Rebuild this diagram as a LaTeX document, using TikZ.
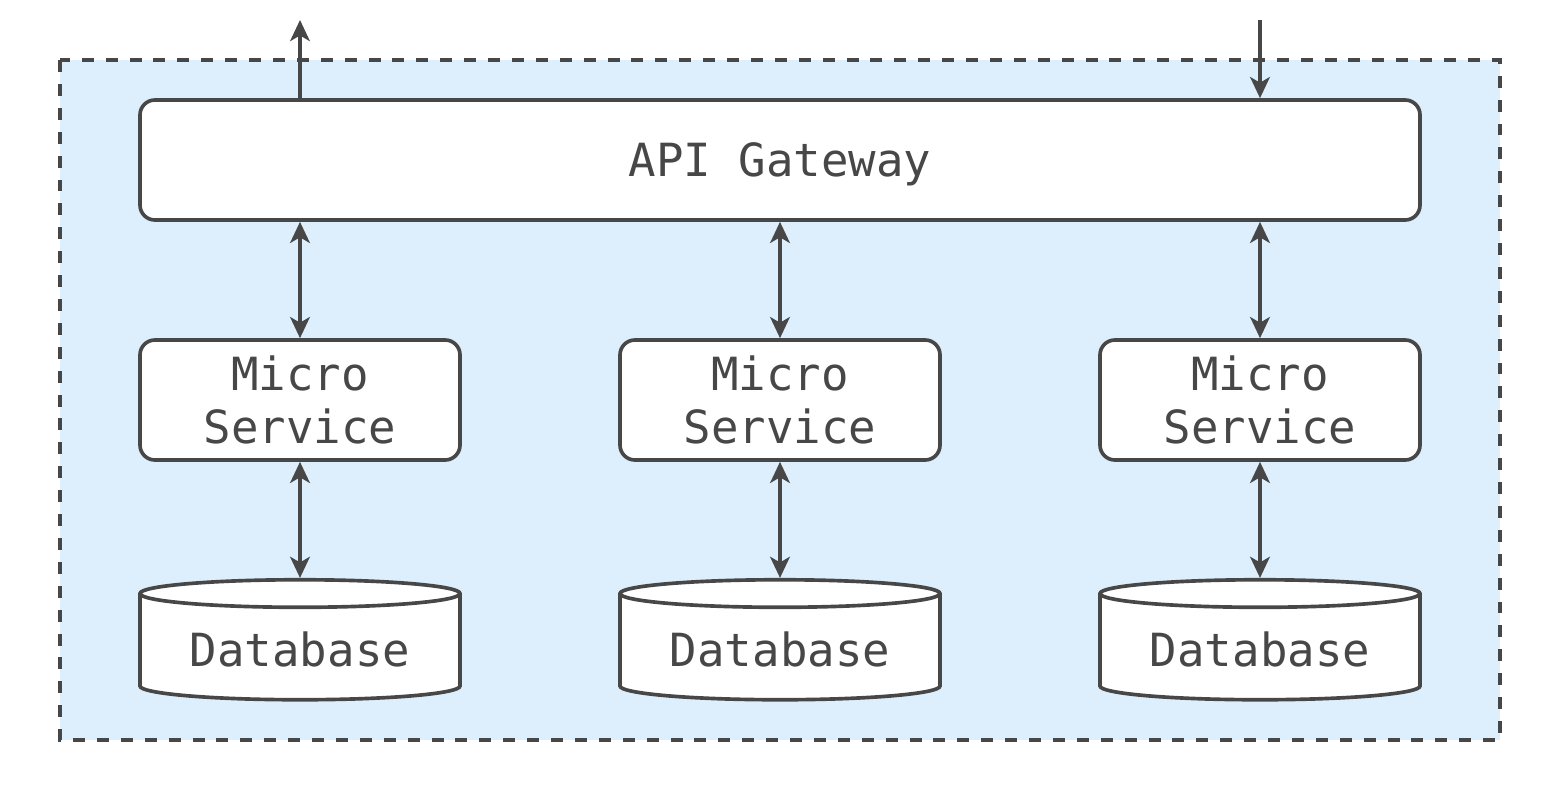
\documentclass[tikz,border=0pt]{standalone}
\usepackage{fontspec}
\setmonofont{DejaVu Sans Mono}
\usetikzlibrary{shapes.geometric,arrows.meta}
\definecolor{ink}{HTML}{474747}
\definecolor{zone}{HTML}{DDEFFD}
\tikzset{
	box/.style={draw=ink,fill=white,line width=2.6pt,rounded corners=10.6pt,
		text=ink,font=\ttfamily\fontsize{32.5}{40}\selectfont,align=center},
	store/.style={draw=ink,fill=white,line width=2.6pt,cylinder,shape border rotate=90,
		aspect=0.12,minimum width=8cm,minimum height=3cm,
		text=ink,font=\ttfamily\fontsize{32.5}{40}\selectfont},
	link/.style={draw=ink,line width=2.6pt,-{Stealth[length=15pt,width=14pt,inset=4pt]}},
	both/.style={link,{Stealth[length=15pt,width=14pt,inset=4pt]}-{Stealth[length=15pt,width=14pt,inset=4pt]}}
}
\begin{document}
\begin{tikzpicture}
	\useasboundingbox (0,0) rectangle (39,-20);
	\draw[ink,fill=zone,line width=2.6pt,dash pattern=on 8.5pt off 8.5pt](1.5,-1.5) rectangle (37.5,-18.5);
	\node[box,minimum width=32cm,minimum height=3cm,text depth=0pt] (gw) at (19.5,-4) {API Gateway};
	\foreach \i/\x in {1/7.5,2/19.5,3/31.5}{
		\node[box,minimum width=8cm,minimum height=3cm] (ms\i) at (\x,-10) {Micro\\[-2pt]Service};
		\node[store] (db\i) at (\x,-16.23) {Database};
		\draw[both] (gw.south -| ms\i) -- (ms\i);
		\draw[both] (ms\i) -- (db\i.north);
	}
	\coordinate (out) at (7.5,-0.5);
	\coordinate (in) at (31.5,-0.5);
	\draw[link] (gw.north -| out) -- (out);
	\draw[link] (in) -- (gw.north -| in);
\end{tikzpicture}
\end{document}
